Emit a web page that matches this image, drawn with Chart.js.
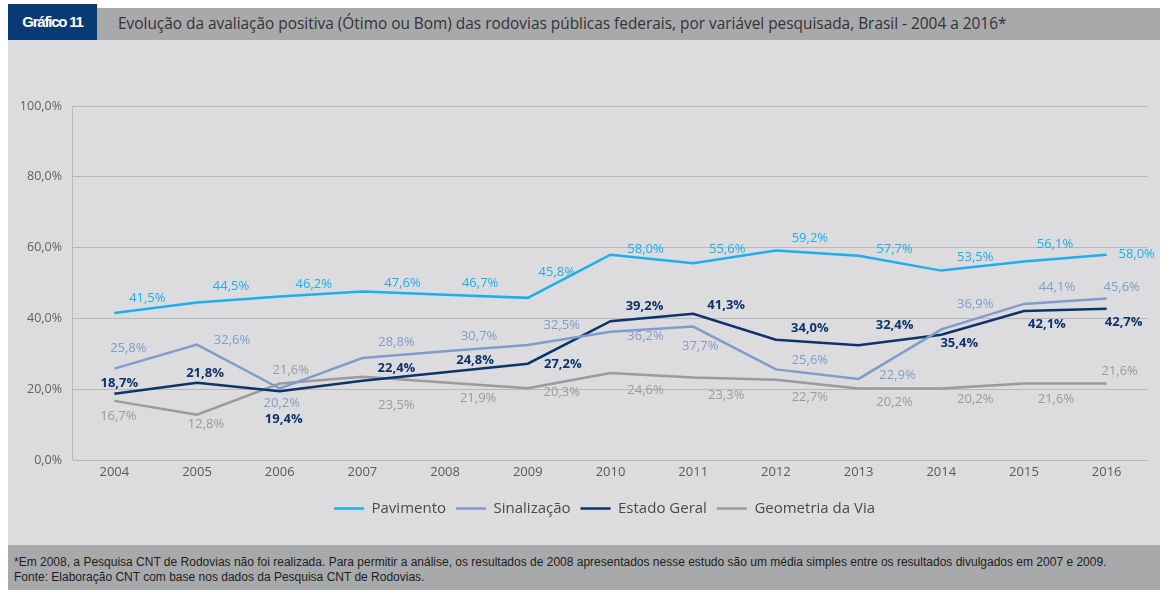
<!DOCTYPE html>
<html>
<head>
<meta charset="utf-8">
<script src="https://cdn.jsdelivr.net/npm/chart.js@4.4.1/dist/chart.umd.min.js"></script>
<style>
  body { margin: 0; background: #fff; width: 1165px; height: 593px; overflow: hidden; position: relative; font-family: "Open Sans", sans-serif; }
  #tag { position: absolute; left: 8px; top: 4px; width: 89px; height: 36px; background: #0a3a74; color: #fff;
         font-family: "Liberation Sans Narrow", "Liberation Sans", sans-serif; font-stretch: condensed; font-weight: bold;
         font-size: 15px; line-height: 36px; text-align: center; letter-spacing: -1.2px; }
  #title { position: absolute; left: 97px; top: 8px; width: 1063px; height: 32px; background: #a8a9ab; color: #333;
           font-size: 15.4px; line-height: 32px; padding-left: 21px; box-sizing: border-box; white-space: nowrap; }
  #panel { position: absolute; left: 8px; top: 40px; width: 1152px; height: 505px; background: #dcdcde; }
  #note { position: absolute; left: 8px; top: 545px; width: 1152px; height: 45px; background: #a8a9ab; color: #1e1e1e;
          font-family: "Liberation Sans Narrow", "Liberation Sans", sans-serif; font-size: 12px; line-height: 15px;
          padding: 10px 0 0 6px; box-sizing: border-box; white-space: nowrap; }
</style>
</head>
<body>
<div id="tag">Gráfico 11</div>
<div id="title">Evolução da avaliação positiva (Ótimo ou Bom) das rodovias públicas federais, por variável pesquisada, Brasil - 2004 a 2016*</div>
<div id="panel"><canvas id="line-chart"></canvas></div>
<div id="note">*Em 2008, a Pesquisa CNT de Rodovias não foi realizada. Para permitir a análise, os resultados de 2008 apresentados nesse estudo são um média simples entre os resultados divulgados em 2007 e 2009.<br>Fonte: Elaboração CNT com base nos dados da Pesquisa CNT de Rodovias.</div>
<script>
// Values
const years = ["2004", "2005", "2006", "2007", "2008", "2009", "2010", "2011", "2012", "2013", "2014", "2015", "2016"];
const pavimento = [41.5, 44.5, 46.2, 47.6, 46.7, 45.8, 58.0, 55.6, 59.2, 57.7, 53.5, 56.1, 58.0];
const sinalizacao = [25.8, 32.6, 20.2, 28.8, 30.7, 32.5, 36.2, 37.7, 25.6, 22.9, 36.9, 44.1, 45.6];
const estadoGeral = [18.7, 21.8, 19.4, 22.4, 24.8, 27.2, 39.2, 41.3, 34.0, 32.4, 35.4, 42.1, 42.7];
const geometria = [16.7, 12.8, 21.6, 23.5, 21.9, 20.3, 24.6, 23.3, 22.7, 20.2, 20.2, 21.6, 21.6];
const yTicks = [0, 20, 40, 60, 80, 100];

// where each value label sits relative to its point [dx, dy]
const pavimentoLabelPos = [[33,-15],[34,-16],[34,-12],[40,-8],[35,-11],[29,-26],[35,-5],[34,-14],[34,-12],[36,-6],[34,-13],[31,-17],[30,0]];
const sinalizacaoLabelPos = [[14,-20],[35,-4],[2,15],[34,-16],[34,-15],[34,-20],[35,4],[7,20],[34,-9],[39,-4],[34,-25],[33,-17],[15,-11]];
const estadoLabelPos = [[5,-11],[8,-10],[4,28],[34,-12],[30,-12],[35,1],[34,-15],[33,-9],[34,-11],[36,-20],[18,9],[23,13],[17,13]];
const geometriaLabelPos = [[4,15],[9,10],[11,-13],[34,28],[33,16],[34,4],[35,17],[33,18],[34,18],[36,14],[34,11],[32,16],[13,-12]];

function pct(v) {
  return v.toFixed(1).replace(".", ",") + "%";
}

// draws the value labels next to each point
const valueLabels = {
  id: "valueLabels",
  afterDatasetsDraw(chart) {
    const ctx = chart.ctx;
    chart.data.datasets.forEach((ds, i) => {
      const meta = chart.getDatasetMeta(i);
      ctx.save();
      ctx.font = (ds.labelBold ? "bold " : "") + "13px 'Open Sans'";
      ctx.fillStyle = ds.borderColor;
      ctx.textAlign = "center";
      ctx.textBaseline = "middle";
      meta.data.forEach((pt, j) => {
        const off = ds.labelPos[j];
        ctx.fillText(pct(ds.data[j]), pt.x + off[0], pt.y + off[1]);
      });
      ctx.restore();
    });
  }
};

// legend in the reference is centred on the plot, not on the panel
const legendShift = {
  id: "legendShift",
  afterLayout(chart) {
    const shift = (chart.chartArea.left + chart.chartArea.right) / 2 - chart.width / 2;
    chart.legend.left += shift;
    chart.legend.right += shift;
  }
};

function createLineChart() {
  const ctx = document.getElementById("line-chart").getContext("2d");
  const mk = (label, data, color, labelPos, bold) => ({
    label: label,
    data: data,
    borderColor: color,
    backgroundColor: color,
    borderWidth: 2.5,
    pointRadius: 0,
    tension: 0,
    labelPos: labelPos,
    labelBold: bold,
  });

  return new Chart(ctx, {
    type: "line",
    data: {
      labels: years,
      datasets: [
        mk("Pavimento", pavimento, "#1cafec", pavimentoLabelPos, false),
        mk("Sinalização", sinalizacao, "#7f9ccb", sinalizacaoLabelPos, false),
        mk("Estado Geral", estadoGeral, "#0c336b", estadoLabelPos, true),
        mk("Geometria da Via", geometria, "#9b9b9d", geometriaLabelPos, false),
      ],
    },
    options: {
      responsive: true,
      maintainAspectRatio: false,
      animation: false,
      layout: { padding: { top: 66, right: 12, bottom: 19, left: 0 } },
      plugins: {
        tooltip: { enabled: false },
        legend: {
          position: "bottom",
          labels: {
            usePointStyle: true,
            pointStyle: "line",
            pointStyleWidth: 30,
            color: "#4a4a4a",
            padding: 10,
            font: { family: "'Open Sans'", size: 15 },
          },
        },
      },
      scales: {
        x: {
          offset: true,
          grid: {
            offset: true,
            drawTicks: false,
            color: (c) => (c.index === 0 || c.index === years.length ? "#b8b8ba" : "rgba(0,0,0,0)"),
          },
          border: { display: false },
          ticks: { color: "#5e5955", padding: 4, font: { family: "'Open Sans'", size: 13 } },
          afterFit: (scale) => { scale.height = 31; },
        },
        y: {
          min: 0,
          max: 100,
          afterBuildTicks: (scale) => { scale.ticks = yTicks.map((v) => ({ value: v })); },
          grid: { color: "#b8b8ba", drawTicks: false },
          border: { display: false },
          ticks: { color: "#6a5f57", padding: 11, font: { family: "'Open Sans'", size: 12.5 }, callback: (v) => pct(v) },
          afterFit: (scale) => { scale.width = 65; },
        },
      },
    },
    plugins: [valueLabels, legendShift],
  });
}

const lineChart = createLineChart();
</script>
</body>
</html>
